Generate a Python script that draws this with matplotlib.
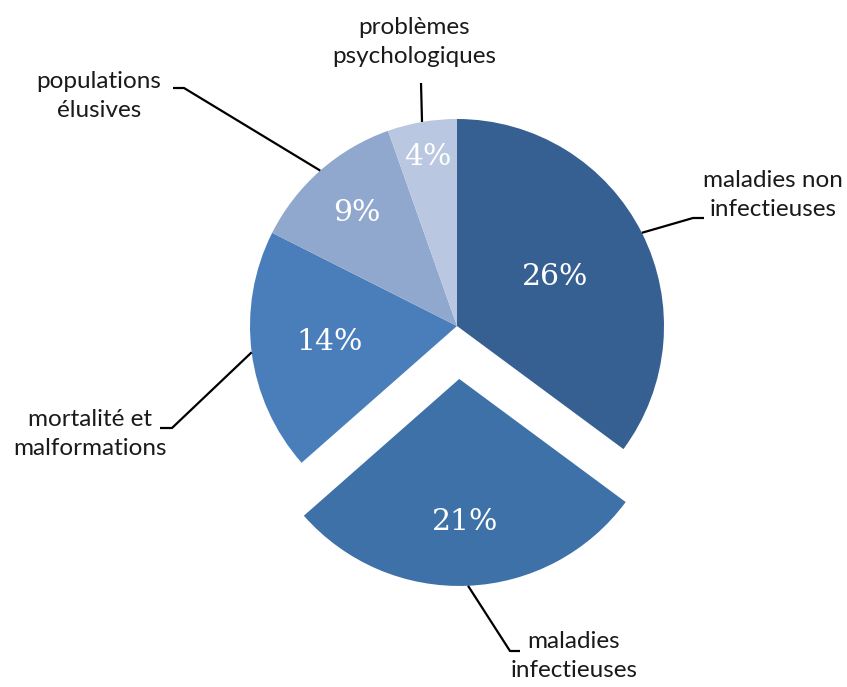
import numpy as np
import matplotlib
matplotlib.use("Agg")
import matplotlib.pyplot as plt

# données du graphique
categories = ["maladies non\ninfectieuses", "maladies\ninfectieuses",
              "mortalité et\nmalformations", "populations\nélusives",
              "problèmes\npsychologiques"]
valeurs = [26, 21, 14, 9, 4]
couleurs = ["#376092", "#3D71A7", "#4A7EBB", "#91A8CE", "#B9C7E1"]

W, H = 847, 687
R = 207
centre = (457, H - 326)
# décalage de la part détachée (unités de données)
ecartement = [0, 53, 0, 0, 0]

fig = plt.figure(figsize=(W / 100, H / 100), dpi=100)
ax = fig.add_axes([0, 0, 1, 1])

parts, _ = ax.pie(valeurs, colors=couleurs, explode=ecartement, startangle=90,
                  counterclock=False, radius=R, center=centre, frame=True,
                  wedgeprops=dict(linewidth=0))
ax.set_xlim(0, W)
ax.set_ylim(0, H)
ax.set_aspect("equal")
ax.axis("off")

# position radiale des étiquettes de pourcentage
dist_pct = [0.53, 0.69, 0.62, 0.73, 0.83]

# lignes de rappel (coude, fin) et centre du texte de chaque catégorie
legendes = [
    dict(coude=(693, H - 218), fin=(704, H - 218), txt=(773, H - 195)),
    dict(coude=(510, H - 651), fin=(520, H - 651), txt=(574, H - 656)),
    dict(coude=(172, H - 428), fin=(160, H - 428), txt=(90, H - 434)),
    dict(coude=(184, H - 88), fin=(173, H - 88), txt=(99, H - 96)),
    dict(coude=(421, H - 83), fin=(421, H - 83), txt=(414, H - 42)),
]

for w, v, d, cat, leg in zip(parts, valeurs, dist_pct, categories, legendes):
    a = np.deg2rad((w.theta1 + w.theta2) / 2)
    cx, cy = w.center
    ax.text(cx + d * R * np.cos(a), cy + d * R * np.sin(a), f"{v}%",
            color="white", fontsize=21.5, family="DejaVu Serif",
            ha="center", va="center")
    bord = (cx + R * np.cos(a), cy + R * np.sin(a))
    ax.plot([bord[0], leg["coude"][0], leg["fin"][0]],
            [bord[1], leg["coude"][1], leg["fin"][1]],
            color="black", linewidth=1.6, solid_capstyle="butt")
    ax.text(leg["txt"][0], leg["txt"][1], cat, fontsize=17.5, family="Lato",
            color="#1a1a1a", ha="center", va="center", linespacing=1.45,
            multialignment="center")

fig.savefig("out.png", dpi=100)
